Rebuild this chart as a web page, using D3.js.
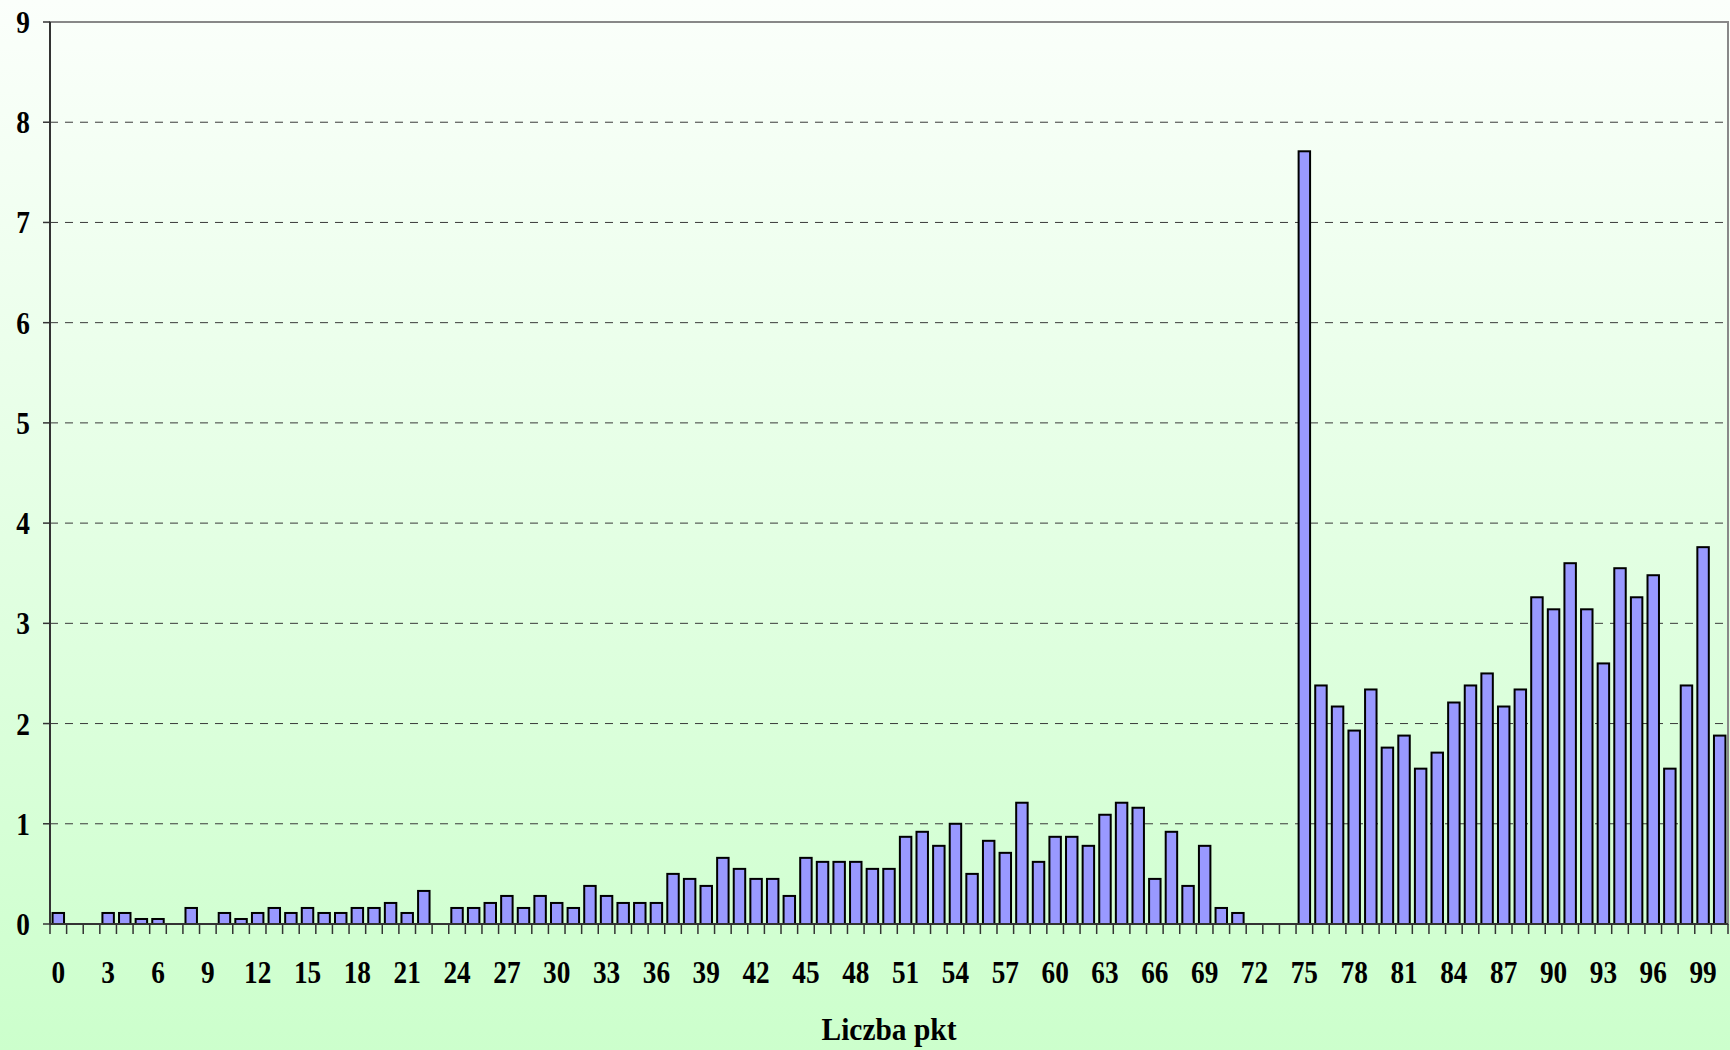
<!DOCTYPE html>
<html>
<head>
<meta charset="utf-8">
<script src="https://d3js.org/d3.v7.min.js"></script>
<style>
  body { margin: 0; padding: 0; }
  svg text { font-family: "Liberation Serif", "Times New Roman", serif; font-weight: bold; }
</style>
</head>
<body>
<div id="chart"></div>
<script>
// points (categories on the x axis)
var categories = [0,1,2,3,4,5,6,7,8,9,10,11,12,13,14,15,16,17,18,19,
    20,21,22,23,24,25,26,27,28,29,30,31,32,33,34,35,36,37,38,39,
    40,41,42,43,44,45,46,47,48,49,50,51,52,53,54,55,56,57,58,59,
    60,61,62,63,64,65,66,67,68,69,70,71,72,73,74,75,76,77,78,79,
    80,81,82,83,84,85,86,87,88,89,90,91,92,93,94,95,96,97,98,99,100];

// share of students (%) for each score
var values = [0.11,0,0,0.11,0.11,0.05,0.05,0,0.16,0,
    0.11,0.05,0.11,0.16,0.11,0.16,0.11,0.11,0.16,0.16,
    0.21,0.11,0.33,0,0.16,0.16,0.21,0.28,0.16,0.28,
    0.21,0.16,0.38,0.28,0.21,0.21,0.21,0.50,0.45,0.38,
    0.66,0.55,0.45,0.45,0.28,0.66,0.62,0.62,0.62,0.55,
    0.55,0.87,0.92,0.78,1.00,0.50,0.83,0.71,1.21,0.62,
    0.87,0.87,0.78,1.09,1.21,1.16,0.45,0.92,0.38,0.78,
    0.16,0.11,0,0,0,7.71,2.38,2.17,1.93,2.34,
    1.76,1.88,1.55,1.71,2.21,2.38,2.50,2.17,2.34,3.26,
    3.14,3.60,3.14,2.60,3.55,3.26,3.48,1.55,2.38,3.76,1.88];

var xTickLabels = [0,3,6,9,12,15,18,21,24,27,30,33,36,39,42,45,48,51,54,57,
    60,63,66,69,72,75,78,81,84,87,90,93,96,99];
var yTickLabels = [0,1,2,3,4,5,6,7,8,9];
var xTitle = "Liczba pkt";

var W = 1730, H = 1050;
var margin = {top: 22, right: 2, bottom: 126, left: 50},
    width = W - margin.left - margin.right,
    height = H - margin.top - margin.bottom;

var svg = d3.select("#chart")
  .append("svg")
    .attr("width", W)
    .attr("height", H);

// chart background gradient
var grad = svg.append("defs").append("linearGradient")
    .attr("id", "bg")
    .attr("x1", 0).attr("y1", 0).attr("x2", 0).attr("y2", 1);
grad.append("stop").attr("offset", "0%").attr("stop-color", "#fbfffb");
grad.append("stop").attr("offset", "100%").attr("stop-color", "#ccffcc");

svg.append("rect")
    .attr("width", W)
    .attr("height", H)
    .attr("fill", "url(#bg)");

var g = svg.append("g")
    .attr("transform", "translate(" + margin.left + "," + margin.top + ")");

var x = d3.scaleBand()
    .domain(categories)
    .range([0, width])
    .paddingInner(0.31)
    .paddingOuter(0.155);

var y = d3.scaleLinear()
    .domain([0, 9])
    .range([height, 0]);

// plot border (top and right)
g.append("rect")
    .attr("x", 0).attr("y", 0)
    .attr("width", width).attr("height", height)
    .attr("fill", "none")
    .attr("stroke", "#888")
    .attr("stroke-width", 2);

// dashed gridlines
g.append("g")
  .selectAll("line")
  .data(yTickLabels.filter(function(d) { return d > 0 && d < 9; }))
  .enter()
  .append("line")
    .attr("x1", 0)
    .attr("x2", width)
    .attr("y1", function(d) { return y(d); })
    .attr("y2", function(d) { return y(d); })
    .attr("stroke", "#3a3a3a")
    .attr("stroke-width", 1)
    .attr("stroke-dasharray", "8,7");

// bars
g.append("g")
  .selectAll("rect")
  .data(categories.map(function(c, i) { return {cat: c, val: values[i]}; })
        .filter(function(d) { return d.val > 0; }))
  .enter()
  .append("rect")
    .attr("x", function(d) { return x(d.cat); })
    .attr("y", function(d) { return y(d.val); })
    .attr("width", x.bandwidth())
    .attr("height", function(d) { return y(0) - y(d.val); })
    .attr("fill", "#9999ff")
    .attr("stroke", "#000")
    .attr("stroke-width", 2);

// x axis: ticks at category boundaries
var step = x.step();
var xAxis = g.append("g");
xAxis.append("line")
    .attr("x1", 0).attr("x2", width)
    .attr("y1", height).attr("y2", height)
    .attr("stroke", "#333")
    .attr("stroke-width", 2);
xAxis.selectAll("line.tick")
  .data(categories.concat([categories.length]))
  .enter()
  .append("line")
    .attr("class", "tick")
    .attr("x1", function(d, i) { return i * step; })
    .attr("x2", function(d, i) { return i * step; })
    .attr("y1", height)
    .attr("y2", height + 10)
    .attr("stroke", "#333")
    .attr("stroke-width", 1.5);
xAxis.selectAll("text")
  .data(xTickLabels)
  .enter()
  .append("text")
    .attr("transform", function(d) {
      return "translate(" + (x(d) + x.bandwidth() / 2) + "," + (height + 59) + ") scale(0.88,1)";
    })
    .attr("text-anchor", "middle")
    .style("font-size", "31px")
    .attr("fill", "#000")
    .text(function(d) { return d; });

// y axis
var yAxis = g.append("g");
yAxis.append("line")
    .attr("x1", 0).attr("x2", 0)
    .attr("y1", 0).attr("y2", height)
    .attr("stroke", "#333")
    .attr("stroke-width", 2);
yAxis.selectAll("line.tick")
  .data(yTickLabels)
  .enter()
  .append("line")
    .attr("class", "tick")
    .attr("x1", -7).attr("x2", 0)
    .attr("y1", function(d) { return y(d); })
    .attr("y2", function(d) { return y(d); })
    .attr("stroke", "#333")
    .attr("stroke-width", 1.5);
yAxis.selectAll("text")
  .data(yTickLabels)
  .enter()
  .append("text")
    .attr("transform", function(d) {
      return "translate(-20," + (y(d) + 11) + ") scale(0.88,1)";
    })
    .attr("text-anchor", "end")
    .style("font-size", "31px")
    .attr("fill", "#000")
    .text(function(d) { return d; });

// x axis title
g.append("text")
    .attr("transform", "translate(" + (width / 2) + "," + (height + 116) + ") scale(0.95,1)")
    .attr("text-anchor", "middle")
    .style("font-size", "31px")
    .attr("fill", "#000")
    .text(xTitle);
</script>
</body>
</html>
